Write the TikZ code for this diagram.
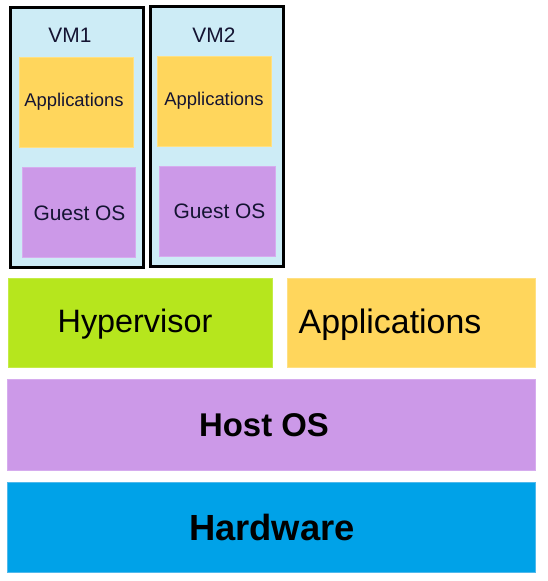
\documentclass[tikz,border=0pt]{standalone}
\usepackage{fontspec}
\setmainfont{Liberation Sans}
\definecolor{vmbg}{RGB}{205,236,246}
\definecolor{appc}{RGB}{255,214,92}
\definecolor{appb}{RGB}{255,224,130}
\definecolor{osc}{RGB}{204,153,232}
\definecolor{osb}{RGB}{214,172,238}
\definecolor{hypc}{RGB}{182,230,29}
\definecolor{hypb}{RGB}{196,236,70}
\definecolor{hwc}{RGB}{0,162,232}
\definecolor{hwb}{RGB}{80,185,236}
\definecolor{smalltxt}{RGB}{20,20,50}
\tikzset{
  vmbox/.style={draw=black, line width=3bp, fill=vmbg},
  appbox/.style={fill=appc, draw=appb, line width=1bp},
  osbox/.style={fill=osc, draw=osb, line width=1bp},
  hypbox/.style={fill=hypc, draw=hypb, line width=1bp},
  hwbox/.style={fill=hwc, draw=hwb, line width=1bp},
  smalltext/.style={anchor=base, inner sep=0pt, text=smalltxt, font=\fontsize{18.5}{22}\selectfont},
  vmtext/.style={anchor=base, inner sep=0pt, text=smalltxt, font=\fontsize{21}{25}\selectfont},
  bigtext/.style={anchor=base, inner sep=0pt, text=black, font=\fontsize{32.5}{39}\selectfont},
  boldtext/.style={anchor=base, inner sep=0pt, text=black, font=\bfseries\fontsize{33}{40}\selectfont},
}
\begin{document}
\begin{tikzpicture}[x=1bp,y=-1bp]
\useasboundingbox (0,0) rectangle (548,581);
% VM1
\draw[vmbox] (10.5,7.5) rectangle (143.5,267.5);
\draw[appbox] (19.5,57.5) rectangle (133.5,147.5);
\draw[osbox] (22.5,167.5) rectangle (135.5,257.5);
\node[vmtext] (vm1) at (70,43) {VM1};
\node[smalltext] (app1) at (74,107) {Applications};
\node[vmtext] (guest1) at (79.5,220) {Guest OS};
% VM2
\draw[vmbox] (150.5,6.5) rectangle (283.5,266.5);
\draw[appbox] (157.5,56.5) rectangle (271.5,146.5);
\draw[osbox] (159.5,166.5) rectangle (275.5,256.5);
\node[vmtext] (vm2) at (214,43) {VM2};
\node[smalltext] (app2) at (214,106) {Applications};
\node[vmtext] (guest2) at (219.5,218) {Guest OS};
% Layers
\draw[hypbox] (8.5,278.5) rectangle (272.5,367.5);
\node[bigtext] (hyp) at (135,332) {Hypervisor};
\draw[appbox] (287.5,278.5) rectangle (535.5,367.5);
\node[bigtext, font=\fontsize{34}{40}\selectfont] (apps) at (390,333) {Applications};
\draw[osbox] (7.5,379.5) rectangle (535.5,470.5);
\node[boldtext] (host) at (264,436) {Host OS};
\draw[hwbox] (7.5,482.5) rectangle (535.5,572.5);
\node[boldtext, font=\bfseries\fontsize{36.5}{44}\selectfont] (hw) at (272,540) {Hardware};
\end{tikzpicture}
\end{document}
